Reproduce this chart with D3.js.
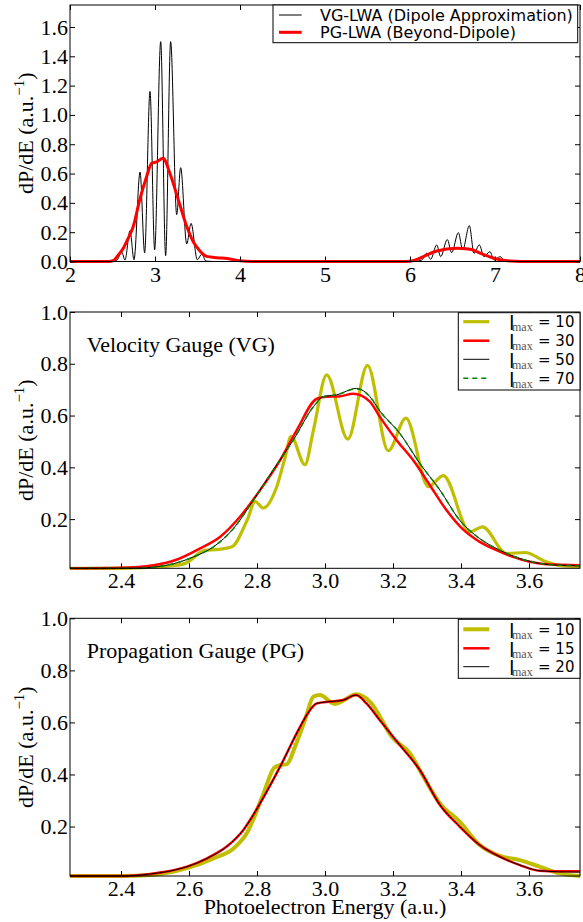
<!DOCTYPE html>
<html>
<head>
<meta charset="utf-8">
<script src="https://cdn.jsdelivr.net/npm/d3@7"></script>
<style>
  body { margin: 0; background: #fff; }
</style>
</head>
<body>
<div id="chart"></div>
<script>
// ---- data: [energy (a.u.), dP/dE] ----
const lwaDipole = [[2.0,0],[2.45,0],[2.55,0.008],[2.608,0.065],[2.647,0.01],[2.706,0.21],[2.753,0.012],
  [2.824,0.61],[2.878,0.06],[2.941,1.16],[2.996,0.08],[3.067,1.5],[3.125,0.04],[3.184,1.5],[3.255,0.32],
  [3.302,0.64],[3.373,0.12],[3.424,0.26],[3.498,0.012],[3.55,0.05],[3.6,0.003],[3.7,0],
  [6.05,0],[6.14,0.01],[6.196,0.056],[6.243,0.015],[6.314,0.113],[6.361,0.033],[6.439,0.15],[6.49,0.06],
  [6.569,0.197],[6.62,0.079],[6.698,0.245],[6.753,0.056],[6.816,0.113],[6.87,0.033],[6.94,0.067],
  [6.99,0.01],[7.06,0.033],[7.12,0.002],[7.2,0],[8.0,0]];
const lwaBeyond = [[2.0,0],[2.45,0],[2.52,0.01],[2.549,0.03],[2.627,0.09],[2.686,0.16],[2.745,0.24],
  [2.82,0.42],[2.902,0.58],[2.96,0.67],[3.02,0.68],[3.095,0.705],[3.176,0.6],[3.275,0.42],[3.373,0.24],
  [3.45,0.135],[3.49,0.1],[3.608,0.035],[3.73,0.026],[3.85,0.02],[4.0,0.005],[4.15,0],
  [5.95,0],[6.05,0.008],[6.157,0.033],[6.314,0.072],[6.55,0.09],[6.706,0.083],[6.86,0.049],
  [7.02,0.017],[7.18,0.003],[7.3,0],[8.0,0]];

const vgL10 = [[2.25,0.01],[2.346,0.01],[2.45,0.012],[2.55,0.02],[2.589,0.029],[2.648,0.08],[2.687,0.083],
  [2.726,0.093],[2.771,0.196],[2.795,0.268],[2.818,0.243],[2.858,0.325],[2.883,0.44],[2.9,0.52],
  [2.941,0.41],[2.966,0.544],[3.005,0.757],[3.067,0.509],[3.125,0.794],[3.186,0.464],[3.238,0.59],
  [3.304,0.325],[3.348,0.368],[3.426,0.151],[3.463,0.17],[3.534,0.067],[3.588,0.071],[3.651,0.035],
  [3.70,0.019],[3.75,0.017]];
const vgL30 = [[2.25,0.01],[2.398,0.012],[2.496,0.022],[2.565,0.044],[2.633,0.087],[2.692,0.132],
  [2.75,0.209],[2.809,0.312],[2.868,0.428],[2.917,0.544],[2.976,0.665],[3.005,0.673],[3.04,0.674],
  [3.083,0.684],[3.132,0.654],[3.161,0.596],[3.21,0.506],[3.259,0.428],[3.308,0.332],[3.357,0.235],
  [3.406,0.16],[3.455,0.112],[3.504,0.08],[3.553,0.054],[3.602,0.035],[3.65,0.026],[3.75,0.022]];
const vgL50 = [[2.25,0.01],[2.437,0.01],[2.535,0.022],[2.613,0.054],[2.672,0.093],[2.731,0.164],
  [2.79,0.274],[2.848,0.39],[2.907,0.506],[2.966,0.634],[2.995,0.673],[3.034,0.68],[3.093,0.705],
  [3.132,0.673],[3.161,0.618],[3.22,0.531],[3.279,0.415],[3.338,0.312],[3.396,0.196],[3.455,0.125],
  [3.514,0.08],[3.573,0.048],[3.631,0.029],[3.69,0.022],[3.75,0.02]];
const vgL70 = [[2.25,0.01],[2.437,0.01],[2.535,0.022],[2.613,0.054],[2.672,0.093],[2.731,0.164],
  [2.79,0.274],[2.848,0.39],[2.907,0.506],[2.966,0.634],[2.995,0.672],[3.034,0.68],[3.093,0.703],
  [3.132,0.673],[3.161,0.618],[3.22,0.531],[3.279,0.415],[3.338,0.312],[3.396,0.196],[3.455,0.125],
  [3.514,0.08],[3.573,0.048],[3.631,0.029],[3.69,0.022],[3.75,0.02]];

const pgL10 = [[2.25,0.01],[2.40,0.01],[2.486,0.014],[2.594,0.04],[2.672,0.078],[2.731,0.116],
  [2.77,0.174],[2.82,0.33],[2.85,0.425],[2.87,0.437],[2.888,0.44],[2.912,0.507],[2.941,0.609],
  [2.966,0.699],[2.985,0.705],[3.029,0.671],[3.093,0.708],[3.132,0.68],[3.2,0.539],[3.25,0.481],
  [3.289,0.392],[3.338,0.289],[3.396,0.219],[3.455,0.129],[3.514,0.087],[3.573,0.071],[3.631,0.046],
  [3.69,0.02],[3.75,0.01]];
const pgL15 = [[2.25,0.01],[2.40,0.01],[2.486,0.018],[2.535,0.027],[2.594,0.046],[2.653,0.078],
  [2.711,0.123],[2.76,0.187],[2.809,0.289],[2.868,0.43],[2.927,0.584],[2.946,0.628],[2.976,0.673],
  [3.015,0.68],[3.054,0.686],[3.091,0.705],[3.122,0.673],[3.161,0.609],[3.22,0.513],[3.279,0.417],
  [3.338,0.283],[3.396,0.2],[3.455,0.129],[3.514,0.084],[3.573,0.052],[3.631,0.03],[3.69,0.028],[3.75,0.028]];
const pgL20 = [[2.25,0.01],[2.40,0.01],[2.486,0.018],[2.535,0.027],[2.594,0.046],[2.653,0.078],
  [2.711,0.123],[2.76,0.187],[2.809,0.289],[2.868,0.43],[2.927,0.584],[2.946,0.628],[2.976,0.673],
  [3.015,0.68],[3.054,0.686],[3.091,0.705],[3.122,0.673],[3.161,0.609],[3.22,0.513],[3.279,0.417],
  [3.338,0.283],[3.396,0.2],[3.455,0.129],[3.514,0.084],[3.573,0.052],[3.631,0.03],[3.69,0.026],[3.75,0.025]];

// ticks
const topXTicks = [2, 3, 4, 5, 6, 7, 8];
const topYTicks = [0, 0.2, 0.4, 0.6, 0.8, 1.0, 1.2, 1.4, 1.6];
const zoomXTicks = [2.4, 2.6, 2.8, 3.0, 3.2, 3.4, 3.6];
const zoomYTicks = [0.2, 0.4, 0.6, 0.8, 1.0];

const W = 583, H = 922;
const left = 70, right = 580;
const SERIF = "'Liberation Serif', 'Times New Roman', serif";
const SANS = "'DejaVu Sans', sans-serif";
const svg = d3.select("#chart").append("svg").attr("width", W).attr("height", H);

const panels = [
  { top: 5, bottom: 261.5, xDomain: [2, 8], yDomain: [0, 1.75],
    xTicks: topXTicks, yTicks: topYTicks, xFmt: d3.format("d"), yFmt: d3.format(".1f"),
    series: [
      { data: lwaDipole, color: "#000", width: 1 },
      { data: lwaBeyond, color: "#ff0000", width: 3 }
    ],
    legend: { x: 273, y: 5, w: 304.7, h: 37.7, rows: [15, 32.3], kind: "plain",
      labels: ["VG-LWA (Dipole Approximation)", "PG-LWA (Beyond-Dipole)"] } },
  { top: 312, bottom: 568.3, xDomain: [2.25, 3.75], yDomain: [0.01, 1.0],
    xTicks: zoomXTicks, yTicks: zoomYTicks, xFmt: d3.format(".1f"), yFmt: d3.format(".1f"),
    title: "Velocity Gauge (VG)", titleY: 351.7,
    series: [
      { data: vgL10, color: "#bfbf00", width: 3.2 },
      { data: vgL30, color: "#ff0000", width: 2.5 },
      { data: vgL50, color: "#000", width: 1 },
      { data: vgL70, color: "#008000", width: 1.5, dash: "5,4" }
    ],
    legend: { x: 458.3, y: 312.7, w: 121.7, h: 77.3, rows: [321.7, 340.7, 359.3, 378.3], kind: "lmax",
      labels: ["10", "30", "50", "70"] } },
  { top: 618.3, bottom: 876, xDomain: [2.25, 3.75], yDomain: [0.01, 1.0],
    xTicks: zoomXTicks, yTicks: zoomYTicks, xFmt: d3.format(".1f"), yFmt: d3.format(".1f"),
    title: "Propagation Gauge (PG)", titleY: 658,
    series: [
      { data: pgL10, color: "#bfbf00", width: 4 },
      { data: pgL15, color: "#ff0000", width: 2.5 },
      { data: pgL20, color: "#000", width: 1 }
    ],
    legend: { x: 458.3, y: 619.3, w: 121.7, h: 59, rows: [629.3, 648.3, 666.7], kind: "lmax",
      labels: ["10", "15", "20"] } }
];

function styleAxis(g) {
  g.select(".domain").remove();
  g.attr("font-family", SERIF).attr("font-size", 22);
  g.selectAll("line").attr("stroke", "#000");
  g.selectAll("text").attr("fill", "#000");
}

panels.forEach(p => {
  const x = d3.scaleLinear().domain(p.xDomain).range([left, right]);
  const y = d3.scaleLinear().domain(p.yDomain).range([p.bottom, p.top]);
  const g = svg.append("g");

  // curves
  const line = d3.line().x(d => x(d[0])).y(d => y(d[1])).curve(d3.curveMonotoneX);
  p.series.forEach(s => {
    g.append("path")
      .datum(s.data)
      .attr("fill", "none")
      .attr("stroke", s.color)
      .attr("stroke-width", s.width)
      .attr("stroke-dasharray", s.dash || null)
      .attr("stroke-linejoin", "round")
      .attr("d", line);
  });

  // axes, ticks pointing inwards on all four sides
  g.append("g").attr("transform", `translate(0,${p.bottom})`)
    .call(d3.axisBottom(x).tickValues(p.xTicks).tickFormat(p.xFmt).tickSizeInner(-5).tickSizeOuter(0).tickPadding(4.5))
    .call(styleAxis);
  g.append("g").attr("transform", `translate(0,${p.top})`)
    .call(d3.axisTop(x).tickValues(p.xTicks).tickFormat("").tickSizeInner(-5).tickSizeOuter(0))
    .call(styleAxis);
  g.append("g").attr("transform", `translate(${left},0)`)
    .call(d3.axisLeft(y).tickValues(p.yTicks).tickFormat(p.yFmt).tickSizeInner(-5).tickSizeOuter(0).tickPadding(2))
    .call(styleAxis);
  g.append("g").attr("transform", `translate(${right},0)`)
    .call(d3.axisRight(y).tickValues(p.yTicks).tickFormat("").tickSizeInner(-5).tickSizeOuter(0))
    .call(styleAxis);

  g.append("rect")
    .attr("x", left).attr("y", p.top)
    .attr("width", right - left).attr("height", p.bottom - p.top)
    .attr("fill", "none").attr("stroke", "#000").attr("stroke-width", 1);

  // y label
  const yl = g.append("text")
    .attr("transform", `translate(33,${(p.top + p.bottom) / 2}) rotate(-90)`)
    .attr("text-anchor", "middle")
    .attr("font-family", SERIF)
    .attr("font-size", 22);
  yl.append("tspan").text("dP/dE (a.u.");
  yl.append("tspan").attr("font-size", 15).attr("dy", -9).text("\u22121");
  yl.append("tspan").attr("dy", 9).text(")");

  if (p.title) {
    g.append("text").attr("x", 86.7).attr("y", p.titleY)
      .attr("font-family", SERIF).attr("font-size", 22).text(p.title);
  }

  // legend
  const L = p.legend;
  const lg = g.append("g").attr("class", "legend");
  lg.append("rect").attr("x", L.x).attr("y", L.y).attr("width", L.w).attr("height", L.h)
    .attr("fill", "#fff").attr("stroke", "#000").attr("stroke-width", 1);
  L.rows.forEach((ry, i) => {
    const s = p.series[i];
    if (L.kind === "plain") {
      lg.append("line").attr("x1", 279).attr("x2", 301.7).attr("y1", ry).attr("y2", ry)
        .attr("stroke", s.color).attr("stroke-width", s.width);
      lg.append("text").attr("x", 320).attr("y", ry + 5.5)
        .attr("font-family", SANS).attr("font-size", 16).text(L.labels[i]);
    } else {
      lg.append("line").attr("x1", 463.3).attr("x2", 489.3).attr("y1", ry).attr("y2", ry)
        .attr("stroke", s.color).attr("stroke-width", s.width)
        .attr("stroke-dasharray", s.dash || null);
      lg.append("text").attr("x", 509).attr("y", ry + 8.5)
        .attr("font-family", SANS).attr("font-size", 20).text("l");
      lg.append("text").attr("x", 512).attr("y", ry + 9.5)
        .attr("font-family", SERIF).attr("font-size", 12).attr("fill", "#555").text("max");
      lg.append("text").attr("x", 538).attr("y", ry + 5.3)
        .attr("font-family", SANS).attr("font-size", 15).text("= " + L.labels[i]);
    }
  });
});

// shared x label
svg.append("text")
  .attr("x", 325).attr("y", 914)
  .attr("text-anchor", "middle")
  .attr("font-family", SERIF)
  .attr("font-size", 22)
  .text("Photoelectron Energy (a.u.)");
</script>
</body>
</html>
